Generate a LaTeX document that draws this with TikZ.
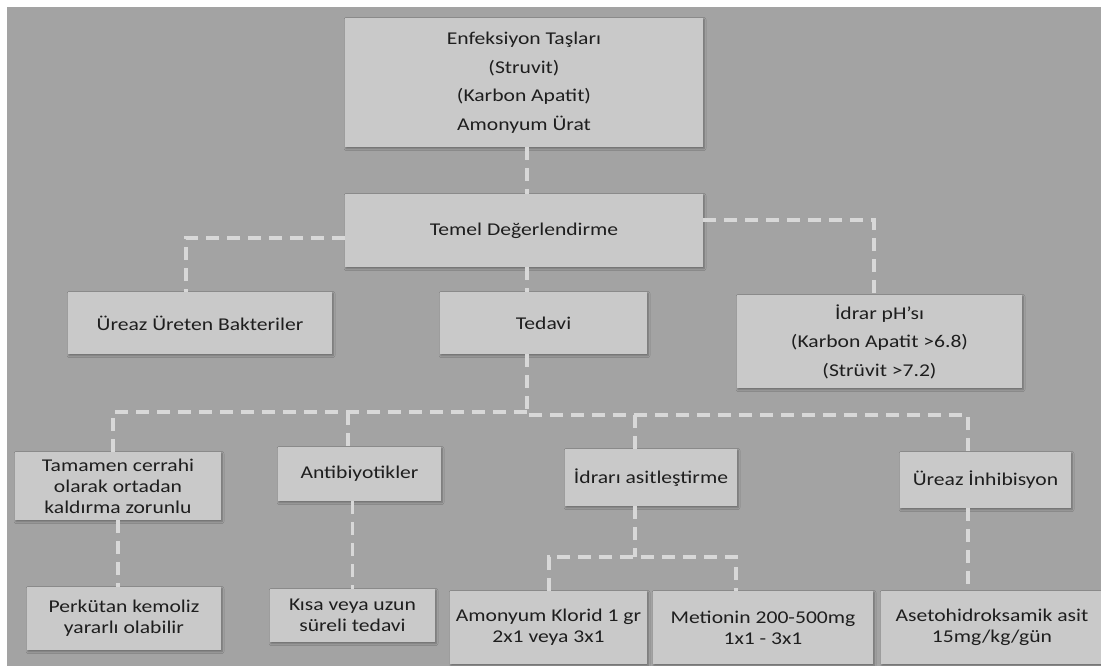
\documentclass[tikz,border=0pt]{standalone}
\usepackage{fontspec}
\setmainfont{Carlito}[FakeStretch=1.2]
\usetikzlibrary{shadows.blur}
\definecolor{pagegray}{HTML}{A3A3A3}
\definecolor{boxgray}{HTML}{C9C9C9}
\definecolor{dashgray}{HTML}{D8D8D8}
\definecolor{inkgray}{HTML}{1E1E1E}
\begin{document}
\begin{tikzpicture}[x=1pt,y=-1pt,
  box/.style={rectangle, fill=boxgray, inner sep=0pt, align=center, text=inkgray,
    font=\fontsize{18}{21}\selectfont,
    blur shadow={shadow xshift=1pt, shadow yshift=-1.5pt, shadow blur radius=2pt,
                 shadow blur steps=4, shadow opacity=35}},
  roomy/.style={font=\fontsize{18}{28.5}\selectfont},
  link/.style={draw=dashgray, line width=3.5pt, dash pattern=on 13pt off 8pt}]

% page and backdrop
\useasboundingbox (0,0) rectangle (1101,666);
\fill[white] (0,0) rectangle (1101,666);
\fill[pagegray] (7,7) rectangle (1101,666);

% level 0 and 1
\node[box, roomy, minimum width=358pt, minimum height=129pt] (stones) at (524,82.5)
  {Enfeksiyon Taşları\\(Struvit)\\(Karbon Apatit)\\Amonyum Ürat};
\node[box, minimum width=358pt, minimum height=73pt] (eval) at (524,230.5)
  {Temel Değerlendirme};

% level 2
\node[box, minimum width=264pt, minimum height=62pt] (bact) at (200,323)
  {Üreaz Üreten Bakteriler};
\node[box, minimum width=207pt, minimum height=62pt] (treat) at (543.5,323)
  {Tedavi};
\node[box, roomy, minimum width=285pt, minimum height=93pt] (ph) at (879.5,341.5)
  {İdrar pH’sı\\(Karbon Apatit >6.8)\\(Strüvit >7.2)};

% level 3
\node[box, minimum width=206pt, minimum height=68pt] (surg) at (118,486)
  {Tamamen cerrahi\\olarak ortadan\\kaldırma zorunlu};
\node[box, minimum width=163pt, minimum height=54pt] (abx) at (359.5,474)
  {Antibiyotikler};
\node[box, minimum width=172pt, minimum height=57pt] (acid) at (651,477.5)
  {İdrarı asitleştirme};
\node[box, minimum width=171pt, minimum height=56pt] (inhib) at (985.5,480)
  {Üreaz İnhibisyon};

% level 4
\node[box, minimum width=194pt, minimum height=63pt] (chemo) at (124,618.5)
  {Perkütan kemoliz\\yararlı olabilir};
\node[box, minimum width=165pt, minimum height=53pt] (course) at (352.5,615.5)
  {Kısa veya uzun\\süreli tedavi};
\node[box, minimum width=197pt, minimum height=73pt] (nh4cl) at (548.5,627.5)
  {Amonyum Klorid 1 gr\\2x1 veya 3x1};
\node[box, minimum width=220pt, minimum height=73pt] (methio) at (763,627.5)
  {Metionin 200-500mg\\1x1 - 3x1};
\node[box, minimum width=222pt, minimum height=73pt] (aha) at (992,627.5)
  {Asetohidroksamik asit\\15mg/kg/gün};

% junction points of the dashed links
\coordinate (jleft)  at (186,238);
\coordinate (jright) at (874,220);
\coordinate (jtrunk) at (527,0);
\coordinate (jdown)  at (527,415);
\coordinate (jwest)  at (113,412);
\coordinate (jabx)   at (348,412);
\coordinate (jacid)  at (635,415);
\coordinate (jeast)  at (968,415);
\coordinate (jsplit) at (635,557);
\coordinate (jcl)    at (549,557);
\coordinate (jme)    at (736,557);

% dashed links
\draw[link] (jtrunk |- stones.south) -- (jtrunk |- eval.north);
\draw[link] (jleft -| eval.west) -- (jleft) -- (jleft |- bact.north);
\draw[link] (jright -| eval.east) -- (jright) -- (jright |- ph.north);
\draw[link] (jtrunk |- eval.south) -- (jtrunk |- treat.north);
\draw[link] (jtrunk |- treat.south) -- (jdown) -- (jeast) -- (jeast |- inhib.north);
\draw[link] (jdown |- jwest) -- (jwest) -- (jwest |- surg.north);
\draw[link] (jabx) -- (jabx |- abx.north);
\draw[link] (jacid) -- (jacid |- acid.north);
\draw[link] (surg.south) -- (surg.south |- chemo.north);
\draw[link] (course.north |- abx.south) -- (course.north);
\draw[link] (jsplit |- acid.south) -- (jsplit);
\draw[link] (jcl |- nh4cl.north) -- (jcl) -- (jme) -- (jme |- methio.north);
\draw[link] (jeast |- inhib.south) -- (jeast |- aha.north);
\end{tikzpicture}
\end{document}
